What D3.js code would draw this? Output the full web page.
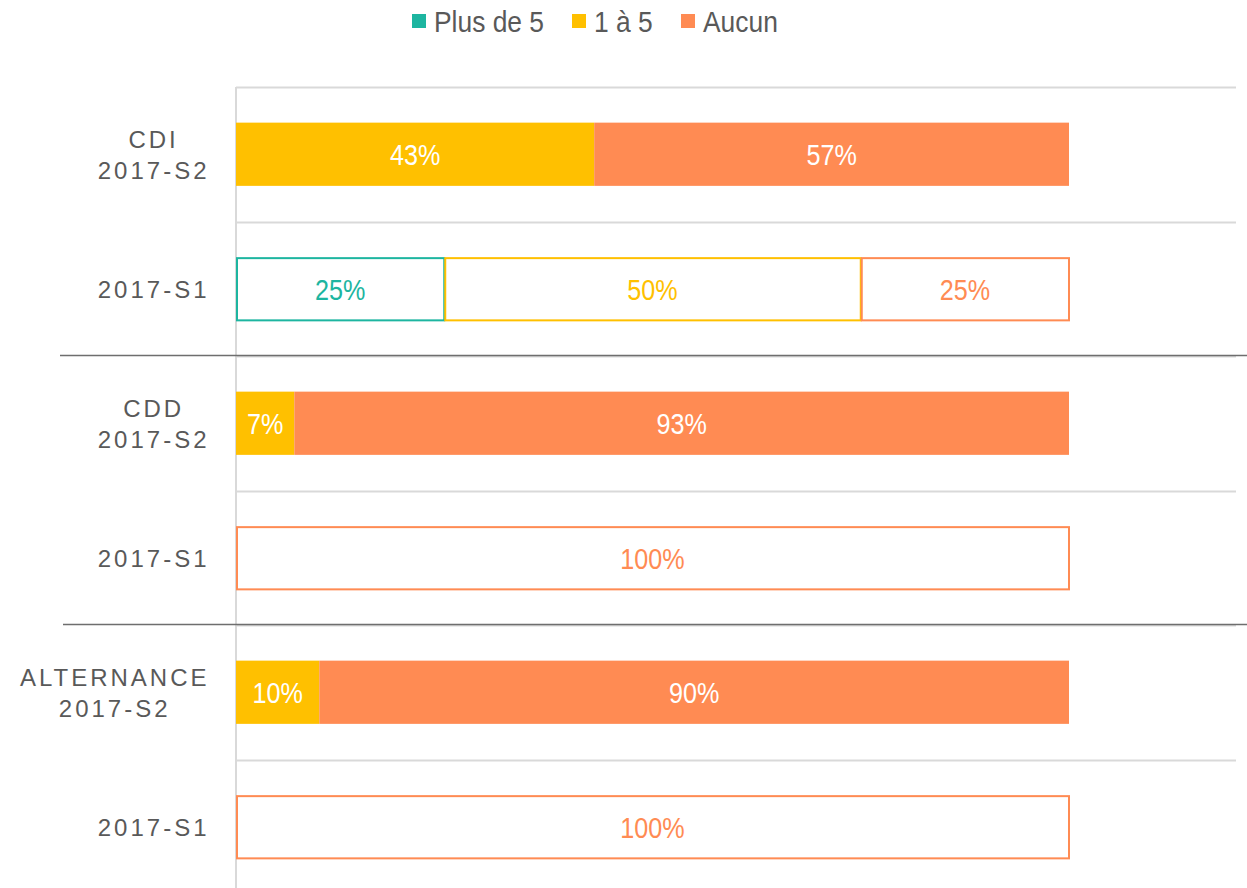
<!DOCTYPE html>
<html>
<head>
<meta charset="utf-8">
<script src="https://cdnjs.cloudflare.com/ajax/libs/d3/7.8.5/d3.min.js"></script>
<style type="text/css">
	body { margin: 0; background: #fff; }
	svg text { font-family: "Liberation Sans", Arial, sans-serif; }
</style>
</head>
<body>
<svg id="chart" width="1247" height="888"></svg>
<script type="text/javascript">
	// rows, top to bottom
	const rowLabels = [
		["CDI", "2017-S2"], ["2017-S1"],
		["CDD", "2017-S2"], ["2017-S1"],
		["ALTERNANCE", "2017-S2"], ["2017-S1"]
	];
	const rowPeriod = ["S2", "S1", "S2", "S1", "S2", "S1"];
	const seriesNames = ["Plus de 5", "1 à 5", "Aucun"];
	const plusDe5 = [0, 25, 0, 0, 0, 0];
	const unA5 = [43, 50, 7, 0, 10, 0];
	const aucun = [57, 25, 93, 100, 90, 100];
	const colors = ["#1db5a0", "#ffc000", "#ff8b53"];

	const svg = d3.select("#chart");
	const W = 1247, H = 888;

	const x = d3.scaleLinear().domain([0, 100]).range([236, 1069]);
	const y = d3.scaleBand().domain(d3.range(rowLabels.length)).range([87, 894]).paddingInner(0.53).paddingOuter(0.265);

	// narrow text helper (no condensed font installed)
	function narrowText(g, cx, cy, size, sx) {
		return g.append("text")
			.attr("transform", `translate(${cx},${cy}) scale(${sx},1)`)
			.attr("font-size", size);
	}

	const table = rowLabels.map((l, i) => ({ row: i, "Plus de 5": plusDe5[i], "1 à 5": unA5[i], "Aucun": aucun[i] }));
	const stacked = d3.stack().keys(seriesNames)(table);

	// light gridlines between rows
	const step = y.step();
	const gridYs = d3.range(rowLabels.length).map(i => 87 + i * step);
	svg.append("g").selectAll("line").data(gridYs).join("line")
		.attr("x1", 236).attr("x2", 1236)
		.attr("y1", d => Math.round(d) + 0.5).attr("y2", d => Math.round(d) + 0.5)
		.attr("stroke", "#d9d9d9").attr("stroke-width", 2);

	// vertical axis
	svg.append("line")
		.attr("x1", 236).attr("x2", 236).attr("y1", 87).attr("y2", H)
		.attr("stroke", "#d9d9d9").attr("stroke-width", 2);

	// group separators
	svg.append("g").selectAll("line").data([[2, 60], [4, 63]]).join("line")
		.attr("x1", d => d[1]).attr("x2", W)
		.attr("y1", d => Math.round(87 + d[0] * step) - 0.5).attr("y2", d => Math.round(87 + d[0] * step) - 0.5)
		.attr("stroke", "#6e6e6e").attr("stroke-width", 1.5);

	// bars
	stacked.forEach((s, si) => {
		const g = svg.append("g");
		s.forEach((d, i) => {
			const w = x(d[1]) - x(d[0]);
			if (w <= 0) return;
			const filled = rowPeriod[i] === "S2";
			g.append("rect")
				.attr("x", filled ? x(d[0]) : x(d[0]) + 1)
				.attr("y", filled ? y(i) : y(i) + 1)
				.attr("width", filled ? w : w - 1)
				.attr("height", filled ? y.bandwidth() : y.bandwidth() - 1)
				.attr("fill", filled ? colors[si] : "#fff")
				.attr("stroke", filled ? "none" : colors[si])
				.attr("stroke-width", 2);
			narrowText(g, (x(d[0]) + x(d[1])) / 2, y(i) + y.bandwidth() / 2 + 11, 30, 0.84)
				.attr("text-anchor", "middle")
				.attr("fill", filled ? "#fff" : colors[si])
				.text((d[1] - d[0]) + "%");
		});
	});

	// row labels: block centered, right edge at 208
	rowLabels.forEach((lines, i) => {
		const g = svg.append("g");
		const cy = y(i) + y.bandwidth() / 2;
		const lh = 31;
		const texts = lines.map((t, k) => g.append("text")
			.attr("font-size", 24)
			.attr("letter-spacing", 3)
			.attr("fill", "#595959")
			.attr("text-anchor", "middle")
			.attr("y", cy + 9 + (k - (lines.length - 1) / 2) * lh)
			.text(t));
		const maxW = d3.max(texts, t => t.node().getComputedTextLength());
		texts.forEach(t => t.attr("x", 208 + 1.5 - maxW / 2));
	});

	// legend
	const legend = svg.append("g");
	const itemX = [412, 572, 681];
	seriesNames.forEach((n, i) => {
		legend.append("rect").attr("x", itemX[i]).attr("y", 14).attr("width", 14).attr("height", 14).attr("fill", colors[i]);
		narrowText(legend, itemX[i] + 22, 32, 30, 0.88)
			.attr("fill", "#595959").text(n);
	});
</script>
</body>
</html>
